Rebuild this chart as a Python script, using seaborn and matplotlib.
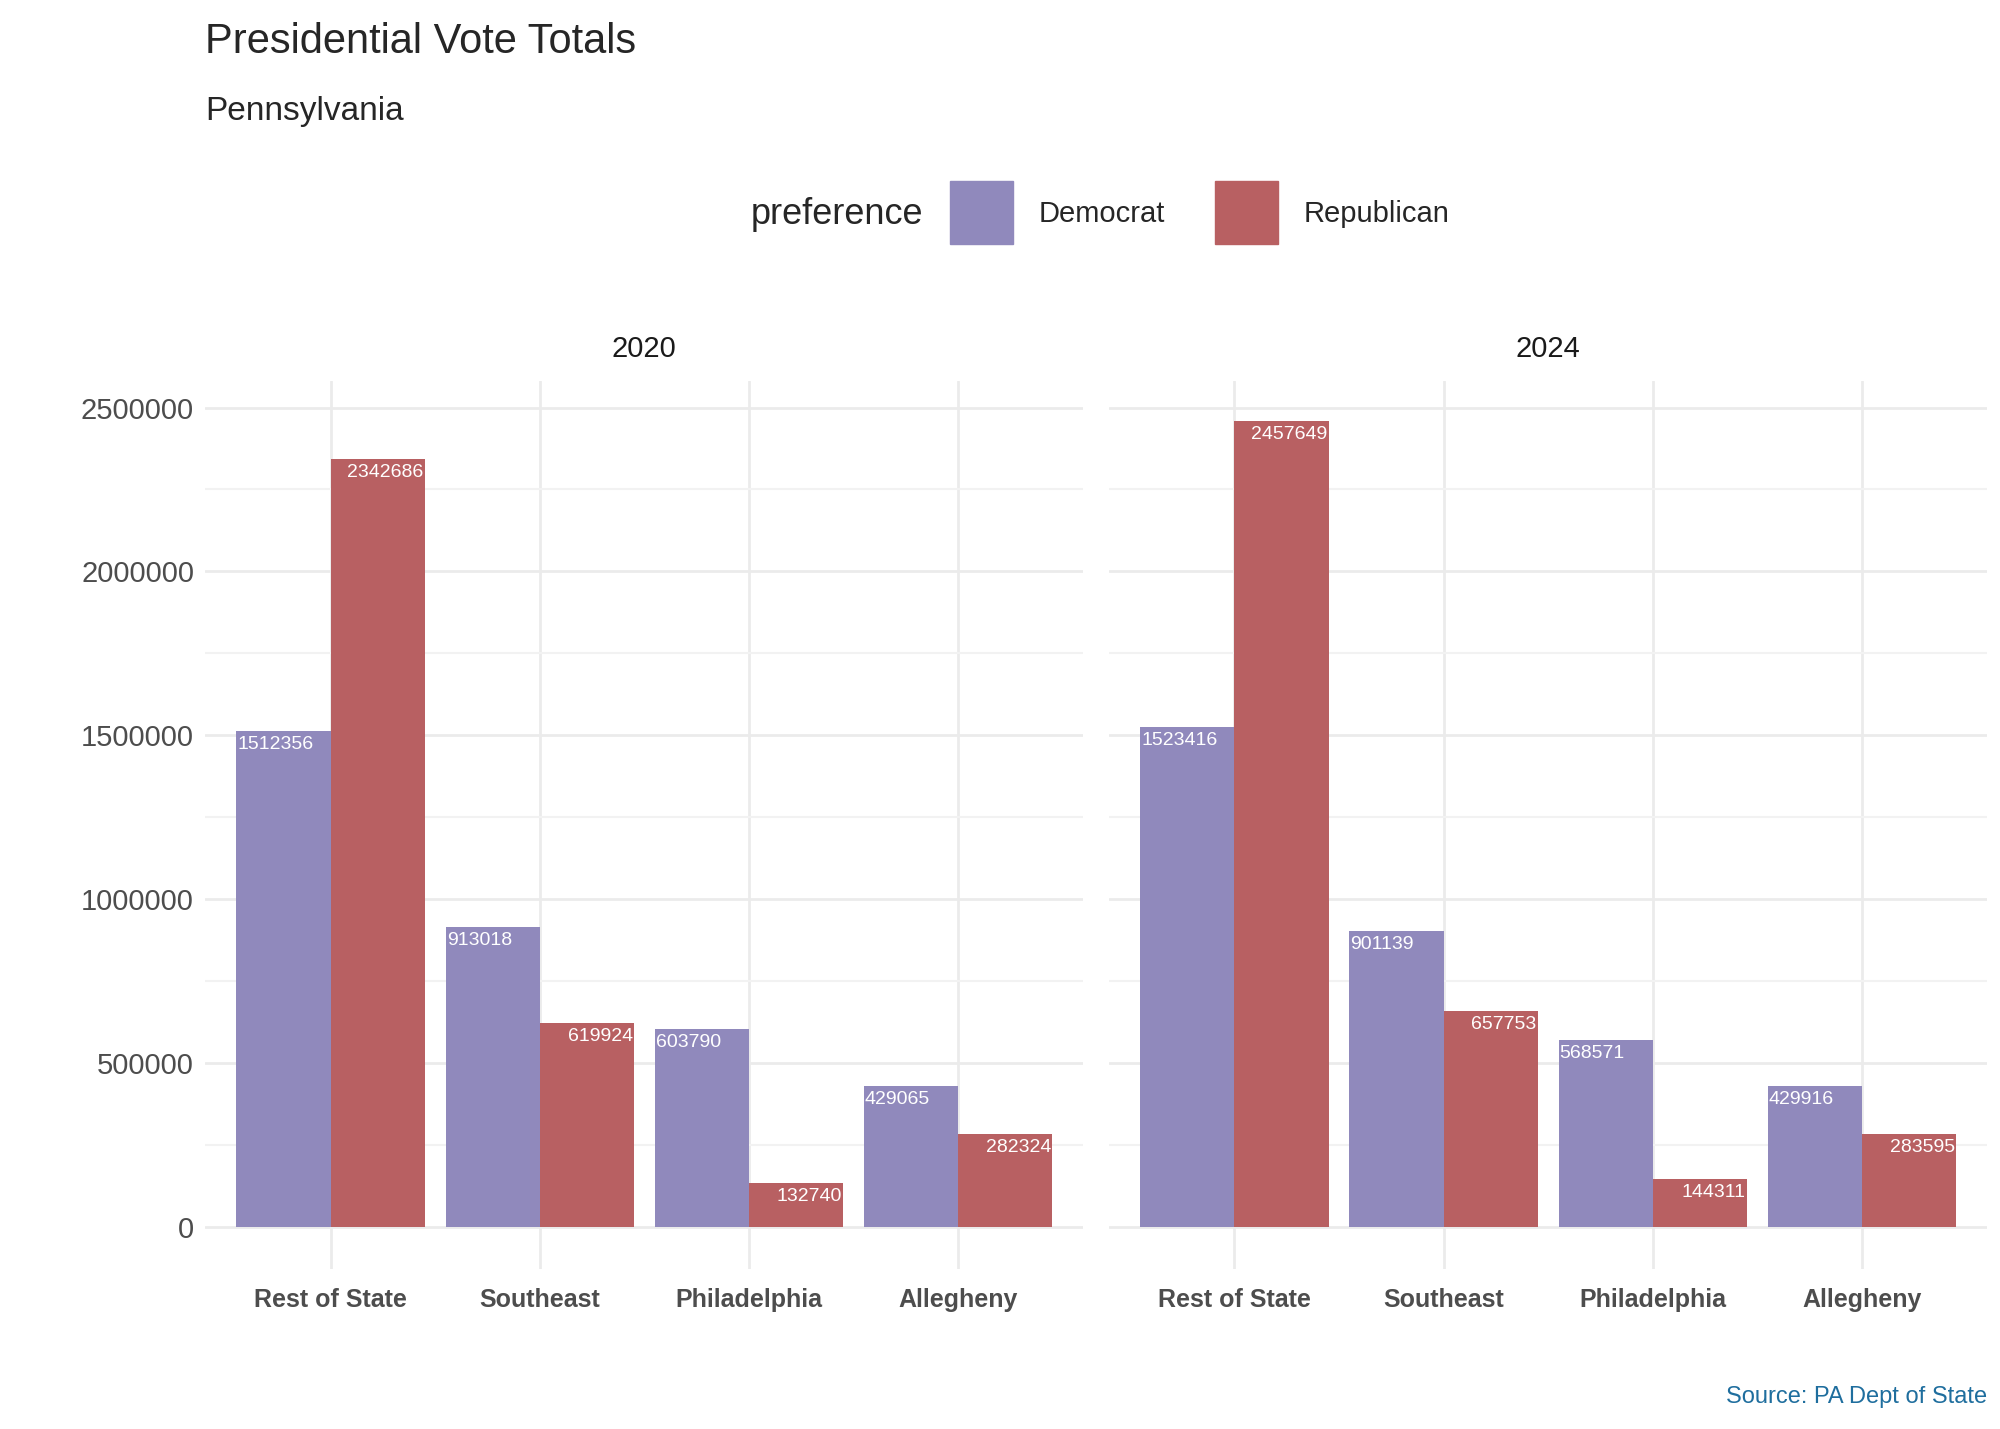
import matplotlib
matplotlib.use("Agg")
import matplotlib.pyplot as plt
import seaborn as sns
import pandas as pd
from matplotlib.patches import Rectangle

years = ["2020", "2024"]
regions = ["Rest of State", "Southeast", "Philadelphia", "Allegheny"]
dem_2020 = [1512356, 913018, 603790, 429065]
rep_2020 = [2342686, 619924, 132740, 282324]
dem_2024 = [1523416, 901139, 568571, 429916]
rep_2024 = [2457649, 657753, 144311, 283595]
parties = ["Democrat", "Republican"]
colors = {"Democrat": "#9089BC", "Republican": "#B86062"}

rows = []
for y, d, r in [("2020", dem_2020, rep_2020), ("2024", dem_2024, rep_2024)]:
    for reg, dv, rv in zip(regions, d, r):
        rows.append((y, reg, "Democrat", dv))
        rows.append((y, reg, "Republican", rv))
df = pd.DataFrame(rows, columns=["year", "region", "preference", "votes"])

sns.set_theme(style="whitegrid")
plt.rcParams['font.family'] = ['Liberation Sans', 'DejaVu Sans']
fig = plt.figure(figsize=(20, 14.29), dpi=100)
W, H = 1560, 1115
def fx(x): return x / W
def fy(y): return 1 - y / H

panels = [(160, 845), (865, 1550)]
for i, (yr, (x0, x1)) in enumerate(zip(years, panels)):
    ax = fig.add_axes([fx(x0), fy(990), fx(x1) - fx(x0), fy(297) - fy(990)])
    sub = df[df.year == yr]
    sns.barplot(data=sub, x="region", y="votes", hue="preference", order=regions,
                hue_order=parties, palette=colors, width=0.9, ax=ax, legend=False,
                saturation=1, edgecolor="none")
    ax.set_xlim(-0.6, 3.6)
    ax.set_ylim(-129000, 2582000)
    ax.set_xlabel(""); ax.set_ylabel("")
    ax.set_yticks([0, 500000, 1000000, 1500000, 2000000, 2500000])
    ax.set_yticks([250000, 750000, 1250000, 1750000, 2250000], minor=True)
    ax.grid(True, which="major", color="#EBEBEB", lw=2)
    ax.grid(True, which="minor", axis="y", color="#F2F2F2", lw=1.5)
    ax.set_axisbelow(True)
    for s in ax.spines.values():
        s.set_visible(False)
    ax.tick_params(axis="x", labelsize=18, colors="#4D4D4D", pad=14, length=0)
    for t in ax.get_xticklabels():
        t.set_fontweight("bold")
    if i == 0:
        ax.tick_params(axis="y", labelsize=21, colors="#4D4D4D", length=0, pad=8)
        ax.set_yticklabels(["0", "500000", "1000000", "1500000", "2000000", "2500000"])
    else:
        ax.tick_params(axis="y", labelleft=False, length=0)
    for p in ax.patches:
        h = p.get_height()
        if h <= 0:
            continue
        is_dem = abs(p.get_facecolor()[0] - 0x90 / 255) < 0.02
        if is_dem:
            ax.text(p.get_x() + 0.005, h - 15000, f"{int(round(h))}", ha="left", va="top",
                    color="white", fontsize=14)
        else:
            ax.text(p.get_x() + p.get_width() - 0.005, h - 15000, f"{int(round(h))}",
                    ha="right", va="top", color="white", fontsize=14)
    fig.text(fx((x0 + x1) / 2), fy(272), yr, ha="center", va="center", fontsize=21, color="#1A1A1A")

fig.text(fx(160), fy(33), "Presidential Vote Totals", fontsize=30, va="center", ha="left")
fig.text(fx(160), fy(87), "Pennsylvania", fontsize=24, va="center", ha="left")
fig.text(fx(720), fy(167), "preference", fontsize=26, va="center", ha="right")
for px, lab in [(741, "Democrat"), (948, "Republican")]:
    fig.patches.append(Rectangle((fx(px), fy(190)), fx(49), fy(141) - fy(190),
                                 transform=fig.transFigure, color=colors[lab], figure=fig))
    fig.text(fx(px + 69), fy(167), lab, fontsize=21, va="center", ha="left")
fig.text(fx(1550), fy(1090), "Source: PA Dept of State", fontsize=17, color="#1F6E9E",
         ha="right", va="center")
fig.savefig("out.png", dpi=100)
